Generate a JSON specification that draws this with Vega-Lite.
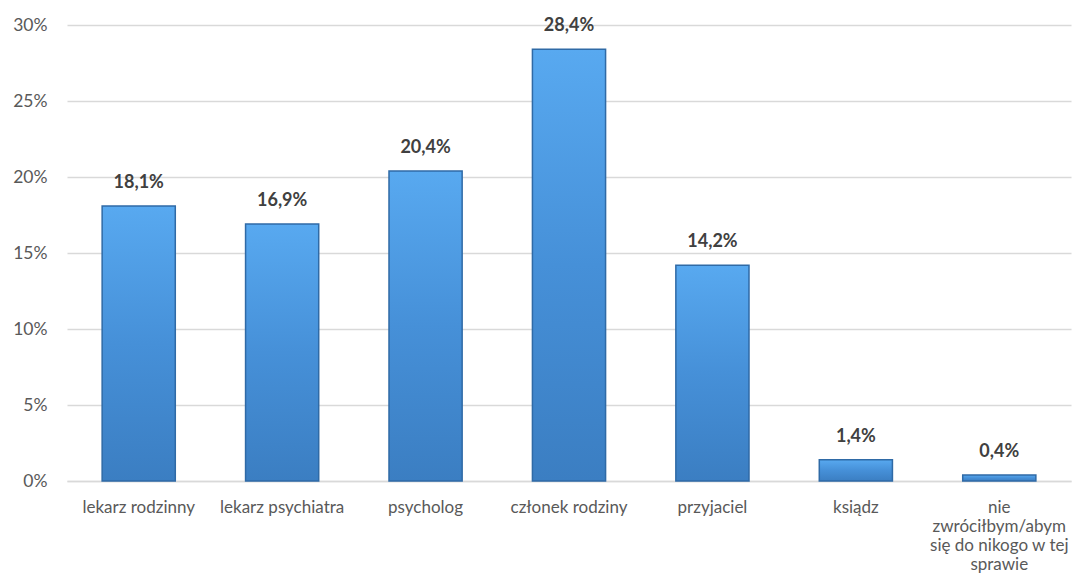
{
  "$schema": "https://vega.github.io/schema/vega-lite/v6.json",
  "autosize": {"type": "none"},
  "width": 1004,
  "height": 456,
  "padding": {"left": 67, "top": 25, "right": 10, "bottom": 102},
  "background": "white",
  "config": {
    "view": {"stroke": null},
    "font": "Lato",
    "locale": {"number": {"decimal": ",", "thousands": " ", "grouping": [3], "currency": ["", " zł"]}}
  },
  "data": {"values": [
    {"kategoria": "lekarz rodzinny", "wartosc": 0.181},
    {"kategoria": "lekarz psychiatra", "wartosc": 0.169},
    {"kategoria": "psycholog", "wartosc": 0.204},
    {"kategoria": "członek rodziny", "wartosc": 0.284},
    {"kategoria": "przyjaciel", "wartosc": 0.142},
    {"kategoria": "ksiądz", "wartosc": 0.014},
    {"kategoria": "nie zwróciłbym/abym się do nikogo w tej sprawie", "wartosc": 0.004}
  ]},
  "encoding": {
    "x": {
      "field": "kategoria", "type": "nominal", "sort": null,
      "scale": {"paddingInner": 0.49, "paddingOuter": 0.245},
      "axis": {
        "title": null, "labelAngle": 0, "ticks": false,
        "domainColor": "#d9d9d9", "domainWidth": 1.5,
        "labelFont": "Lato", "labelFontSize": 17, "labelColor": "#595959",
        "labelPadding": 18, "labelLineHeight": 19, "labelBaseline": "top",
        "labelOverlap": false,
        "labelExpr": "datum.value == 'nie zwróciłbym/abym się do nikogo w tej sprawie' ? ['nie', 'zwróciłbym/abym', 'się do nikogo w tej', 'sprawie'] : datum.value"
      }
    },
    "y": {
      "field": "wartosc", "type": "quantitative",
      "scale": {"domain": [0, 0.3], "nice": false},
      "axis": {
        "title": null, "format": ".0%", "values": [0, 0.05, 0.1, 0.15, 0.2, 0.25, 0.3],
        "domain": false, "ticks": false, "labelOverlap": false,
        "gridColor": "#d9d9d9", "gridWidth": 1.5,
        "labelFont": "Lato", "labelFontSize": 17.5, "labelColor": "#595959", "labelPadding": 20
      }
    }
  },
  "layer": [
    {
      "mark": {
        "type": "bar",
        "stroke": "#2f6aa6", "strokeWidth": 1.5,
        "fill": {
          "gradient": "linear", "x1": 0, "y1": 0, "x2": 0, "y2": 1,
          "stops": [
            {"offset": 0, "color": "#58a9f0"},
            {"offset": 0.5, "color": "#4690d8"},
            {"offset": 1, "color": "#3b7ec2"}
          ]
        }
      }
    },
    {
      "mark": {"type": "text", "dy": -23, "baseline": "middle", "fontSize": 18, "fontWeight": "bold", "color": "#404040", "font": "Lato"},
      "encoding": {
        "text": {"field": "wartosc", "type": "quantitative", "format": ".1%"}
      }
    }
  ]
}
